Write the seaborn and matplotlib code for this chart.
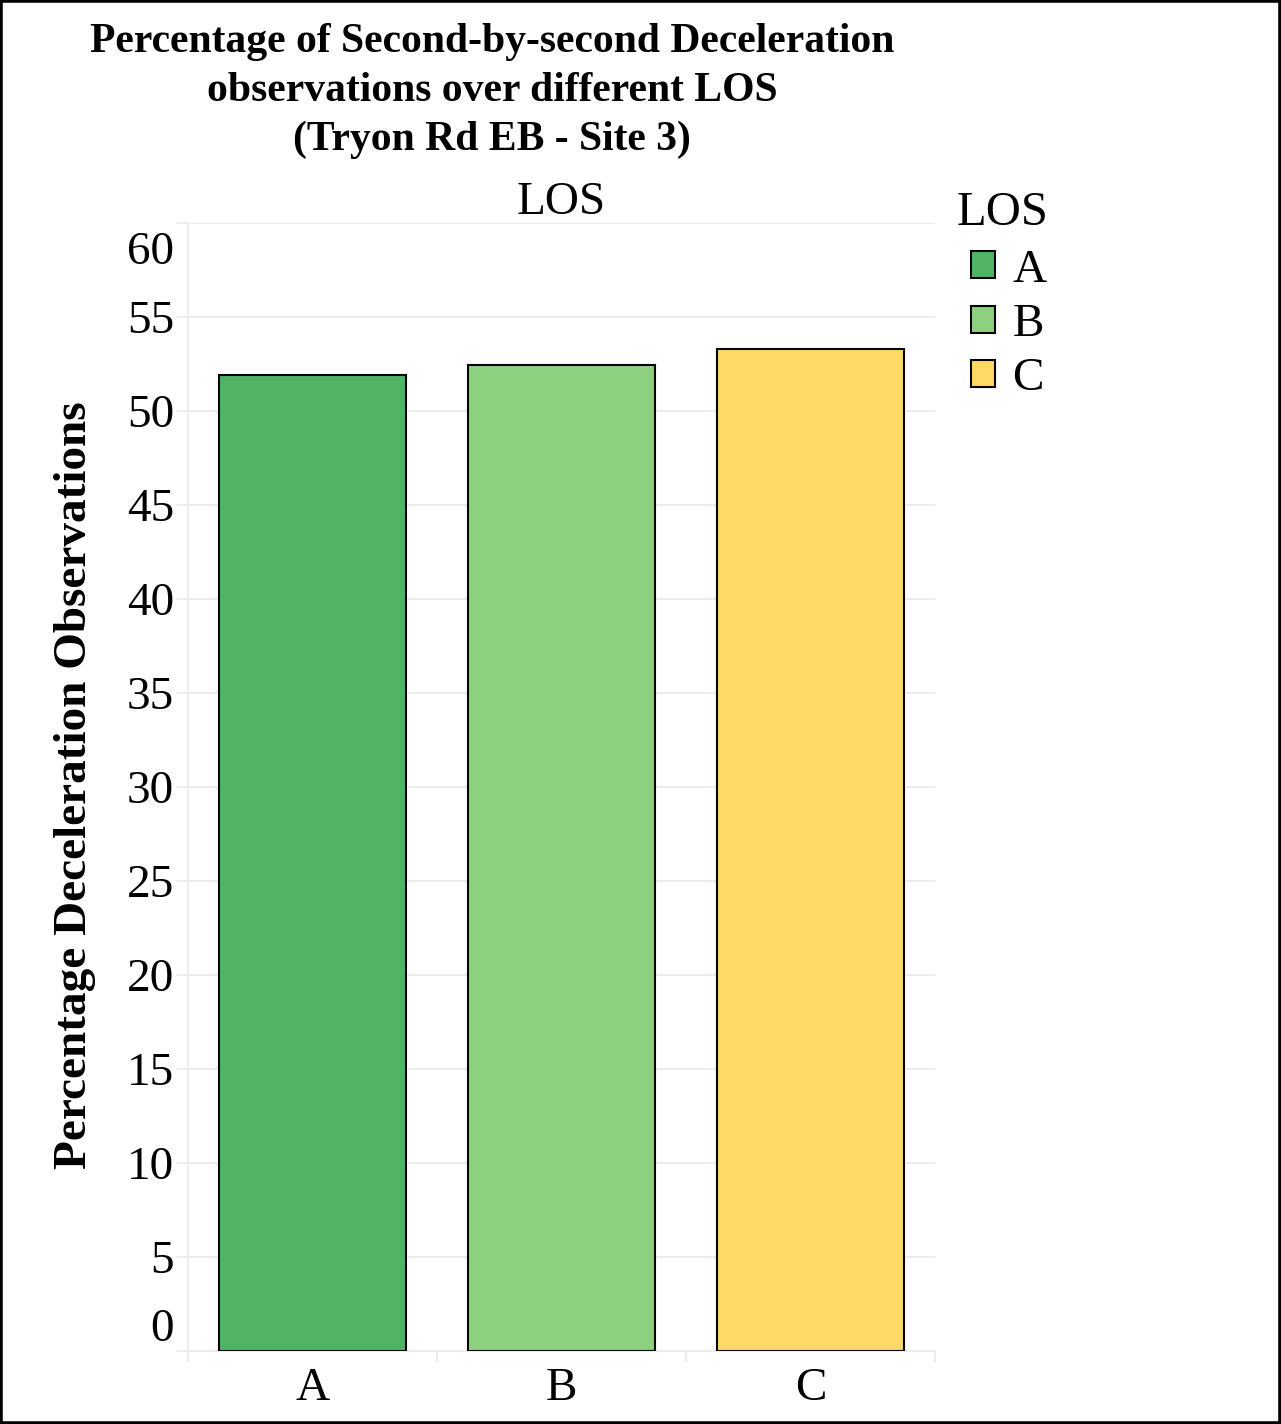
import matplotlib
matplotlib.use("Agg")
import matplotlib.pyplot as plt
from matplotlib.patches import Rectangle
from matplotlib import transforms
import seaborn as sns
import pandas as pd

# Share of deceleration observations per level of service
los_levels = ["A", "B", "C"]
pct_decel = [51.9, 52.45, 53.3]
los_colors = ["#52B365", "#8DD07F", "#FED966"]
y_ticks = list(range(0, 61, 5))

title_text = ("Percentage of Second-by-second Deceleration\n"
              "observations over different LOS\n"
              "(Tryon Rd EB - Site 3)")
ylabel_text = "Percentage Deceleration Observations"

df = pd.DataFrame({"LOS": los_levels, "pct": pct_decel})

sns.set_theme(style="white")
plt.rcParams["font.family"] = ["Liberation Serif", "DejaVu Serif"]
plt.rcParams["text.color"] = "black"
plt.rcParams["xtick.labelcolor"] = "black"
plt.rcParams["ytick.labelcolor"] = "black"

W, H = 1281, 1424
fig = plt.figure(figsize=(W / 100, H / 100), dpi=100)
fig.patch.set_facecolor("white")

ax_l, ax_r, ax_t, ax_b = 188, 935, 223, 1351
ax = fig.add_axes([ax_l / W, 1 - ax_b / H, (ax_r - ax_l) / W, (ax_b - ax_t) / H])

sns.barplot(data=df, x="LOS", y="pct", hue="LOS", palette=los_colors,
            order=los_levels, hue_order=los_levels, dodge=False, width=0.75,
            saturation=1, edgecolor="black", linewidth=1.5, legend=True,
            ax=ax, zorder=3)

ax.set_xlim(-0.5, 2.5)
ax.set_ylim(0, 60)
ax.set_yticks(y_ticks)
ax.set_yticklabels([str(t) for t in y_ticks])
grid_c = "#ececec"
ax.yaxis.grid(True, color=grid_c, linewidth=1.5, zorder=0)
ax.xaxis.grid(False)
ax.set_xticks([-0.5, 0.5, 1.5, 2.5], minor=False)
ax.set_xticklabels([])
ax.set_xticks([0, 1, 2], minor=True)
ax.set_xticklabels(los_levels, minor=True)
ax.tick_params(axis="x", which="major", direction="out", length=8, width=1.5,
               color=grid_c, bottom=True)
ax.tick_params(axis="x", which="minor", length=0, pad=12, labelsize=34,
               labelcolor="black")
ax.tick_params(axis="y", direction="out", length=8, width=1.5, color=grid_c,
               left=True, pad=2, labelsize=34, labelcolor="black")
for name, sp in ax.spines.items():
    sp.set_visible(name in ("left", "bottom"))
    sp.set_color(grid_c)
    sp.set_linewidth(1.5)

# keep the end labels inside the plotting range
ylabels = ax.get_yticklabels()
ylabels[0].set_va("bottom")
ylabels[-1].set_va("top")
ylabels[-1].set_transform(ylabels[-1].get_transform() +
                          transforms.ScaledTranslation(0, -8 / 100,
                                                       fig.dpi_scale_trans))

ax.set_xlabel("")
ax.set_ylabel("")
ax.text(0.5, 1.0 + 20 / (ax_b - ax_t), "LOS", transform=ax.transAxes,
        ha="center", va="center", fontsize=34)

fig.text(492 / W, 1 - 91 / H, title_text, ha="center", va="center",
         fontsize=30, fontweight="bold", linespacing=1.38)
fig.text(75 / W, 1 - 785 / H, ylabel_text, rotation=90, ha="center",
         va="center", fontsize=34, fontweight="bold")

handles, labels = ax.get_legend_handles_labels()
leg = ax.legend(handles, labels, loc="upper left",
                bbox_to_anchor=(971 / W, 1 - 249 / H),
                bbox_transform=fig.transFigure, frameon=False,
                fontsize=34, handlelength=0.5, borderaxespad=0,
                handleheight=0.5, labelspacing=0.25, handletextpad=0.38,
                borderpad=0.0)
for p in leg.get_patches():
    p.set_edgecolor("black")
    p.set_linewidth(1.5)
fig.text(957 / W, 1 - 213 / H, "LOS", ha="left", va="center", fontsize=35)

fig.add_artist(Rectangle((0, 0), 1, 1, transform=fig.transFigure,
                         fill=False, edgecolor="black", linewidth=4))

fig.savefig("out.png", dpi=100)
